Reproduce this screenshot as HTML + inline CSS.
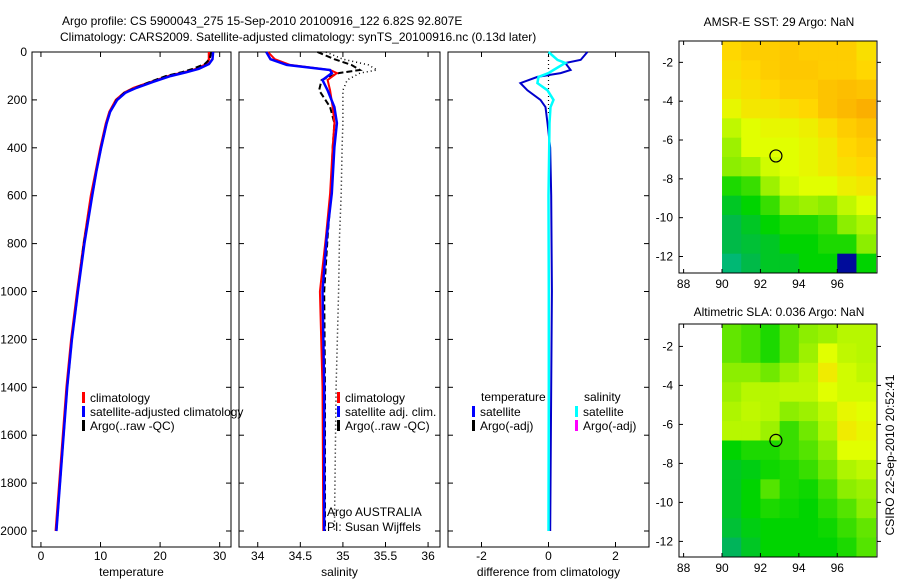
<!DOCTYPE html>
<html><head><meta charset="utf-8"><style>
html,body{margin:0;padding:0;background:#fff;}
svg{display:block;font-family:"Liberation Sans",sans-serif;}
text{font-size:12px;fill:#000;}
</style></head><body>
<svg id="fig" width="900" height="580" viewBox="0 0 900 580">
<text x="62" y="25" font-size="13">Argo profile: CS 5900043_275 15-Sep-2010 20100916_122 6.82S 92.807E</text>
<text x="60" y="41" font-size="13">Climatology: CARS2009. Satellite-adjusted climatology: synTS_20100916.nc (0.13d later)</text>
<text x="779" y="26" text-anchor="middle">AMSR-E SST: 29 Argo: NaN</text>
<text x="779" y="316" text-anchor="middle">Altimetric SLA: 0.036 Argo: NaN</text>
<text transform="translate(894,455) rotate(-90)" text-anchor="middle">CSIRO 22-Sep-2010 20:52:41</text>
<g id="layer"></g>
</svg>
<script>
// ---- data ----
const tDepth=[0,30,50,70,85,100,125,150,170,200,250,300,400,500,600,800,1000,1200,1400,1600,1800,2000];
const tSat=[28.9,28.8,28.2,26.5,24.3,21.8,18.8,16,14.2,12.8,11.6,11,10.1,9.3,8.6,7.3,6.2,5.2,4.4,3.8,3.2,2.6];
const tClim=[28.2,28.2,27.8,26.2,24,21.5,18.5,15.6,14,12.6,11.5,10.9,10,9.2,8.4,7.2,6.1,5.1,4.3,3.7,3.1,2.5];
const tArgo=[28.6,28.3,27.5,25.5,23.5,21,18.3,15.8,14,12.7,11.6,11,10.1,9.3,8.6,7.2,6.2,5.2,4.4,3.8,3.2,2.6];
const sDepth=[0,30,54,75,88,117,160,230,297,397,590,773,1000,1400,2000];
const sSat=[34.1,34.15,34.34,34.85,34.87,34.76,34.82,34.9,34.93,34.9,34.87,34.81,34.76,34.78,34.78];
const sClim=[34.12,34.2,34.38,34.85,34.93,34.82,34.85,34.88,34.9,34.88,34.85,34.8,34.73,34.76,34.77];
const sArgo=[34.7,34.9,35.1,35.2,34.95,34.75,34.72,34.85,34.9,34.88,34.86,34.82,34.78,34.79,34.79];
const sArgoQC=[34.8,35.0,35.3,35.4,35.2,35.05,35.0,35.0,35.0,34.99,34.98,34.96,34.95,34.92,34.9];
const dDepth=[0,33,46,75,88,104,130,160,200,230,297,400,600,1000,1400,2000];
const dTemp=[1.16,0.96,0.5,0.66,0.36,-0.33,-0.84,-0.63,-0.24,-0.09,-0.03,0.05,0.08,0.1,0.08,0.05];
const dSal=[0,0.27,0.5,0.15,0,-0.3,-0.33,-0.03,0.15,0.06,0.03,0.02,0,0.01,0.01,0];
const depthTicks=[0,200,400,600,800,1000,1200,1400,1600,1800,2000];
const tTicks=[0,10,20,30], sTicks=[34,34.5,35,35.5,36], dTicks=[-2,0,2];
const lonTicks=[88,90,92,94,96], latTicks=[-2,-4,-6,-8,-10,-12];
const sstGrid=[
[0.7,0.72,0.72,0.73,0.72,0.72,0.72,0.68],
[0.68,0.7,0.72,0.73,0.73,0.72,0.72,0.7],
[0.66,0.68,0.7,0.72,0.72,0.74,0.75,0.74],
[0.62,0.66,0.66,0.68,0.7,0.74,0.76,0.78],
[0.56,0.6,0.62,0.62,0.64,0.68,0.72,0.74],
[0.52,0.6,0.6,0.6,0.62,0.65,0.7,0.72],
[0.5,0.52,0.58,0.6,0.62,0.65,0.68,0.7],
[0.42,0.44,0.52,0.58,0.6,0.6,0.64,0.66],
[0.38,0.4,0.44,0.5,0.52,0.5,0.56,0.6],
[0.36,0.38,0.4,0.42,0.42,0.44,0.5,0.54],
[0.36,0.37,0.38,0.4,0.4,0.42,0.42,0.5],
[0.34,0.36,0.38,0.38,0.4,0.4,0.12,0.4]];
const slaGrid=[
[0.47,0.45,0.42,0.47,0.5,0.52,0.55,0.55],
[0.47,0.45,0.42,0.47,0.52,0.6,0.56,0.55],
[0.5,0.5,0.48,0.52,0.55,0.65,0.58,0.56],
[0.52,0.55,0.55,0.56,0.56,0.6,0.58,0.58],
[0.54,0.56,0.55,0.5,0.52,0.56,0.62,0.6],
[0.55,0.55,0.52,0.44,0.48,0.54,0.65,0.62],
[0.4,0.42,0.42,0.44,0.46,0.5,0.6,0.6],
[0.38,0.39,0.41,0.42,0.44,0.48,0.54,0.56],
[0.38,0.4,0.46,0.42,0.41,0.45,0.5,0.52],
[0.38,0.4,0.42,0.41,0.4,0.43,0.46,0.5],
[0.37,0.39,0.4,0.4,0.4,0.41,0.44,0.47],
[0.35,0.38,0.4,0.4,0.4,0.4,0.42,0.46]];
const argoLon=92.807, argoLat=-6.82;

// ---- drawing ----
const NS='http://www.w3.org/2000/svg';
const layer=document.getElementById('layer');
function mk(tag,attrs,parent){const e=document.createElementNS(NS,tag);for(const k in attrs)e.setAttribute(k,attrs[k]);(parent||layer).appendChild(e);return e;}
const top0=52,bot0=547,dMax=(bot0-top0)/0.2395;
const yD=d=>top0+d*0.2395;
const panels=[
 {x0:32,x1:231,min:-1.5,max:31.9,ticks:tTicks,label:'temperature',name:'temperature-panel'},
 {x0:239,x1:440,min:33.78,max:36.14,ticks:sTicks,label:'salinity',name:'salinity-panel'},
 {x0:448,x1:649,min:-3,max:3,ticks:dTicks,label:'difference from climatology',name:'difference-panel'}];
panels.forEach((p,pi)=>{
 p.sx=v=>p.x0+(v-p.min)/(p.max-p.min)*(p.x1-p.x0);
 const g=mk('g',{});
 
 
 p.g=g;
 const fr=mk('rect',{x:p.x0,y:top0,width:p.x1-p.x0,height:bot0-top0,fill:'none',stroke:'#000','stroke-width':1},g);
 
 
 depthTicks.forEach(d=>{
  const y=yD(d);
  mk('line',{x1:p.x0,x2:p.x0+5,y1:y,y2:y,stroke:'#000'},g);
  mk('line',{x1:p.x1-5,x2:p.x1,y1:y,y2:y,stroke:'#000'},g);
  if(pi===0){const t=mk('text',{x:27,y:y+4,'text-anchor':'end'},g);t.textContent=d;
   
   }
 });
 p.ticks.forEach(v=>{
  const x=p.sx(v);
  mk('line',{x1:x,x2:x,y1:top0,y2:top0+5,stroke:'#000'},g);
  mk('line',{x1:x,x2:x,y1:bot0-5,y2:bot0,stroke:'#000'},g);
  const t=mk('text',{x:x,y:560,'text-anchor':'middle'},g);t.textContent=v;
  
  
 });
 const xl=mk('text',{x:(p.x0+p.x1)/2,y:576,'text-anchor':'middle'},g);xl.textContent=p.label;
 
 
});
function line(p,depths,vals,color,w,dash,name){
 const pts=depths.map((d,i)=>p.sx(vals[i]).toFixed(1)+','+yD(d).toFixed(1)).join(' ');
 const e=mk('polyline',{points:pts,fill:'none',stroke:color,'stroke-width':w,'stroke-dasharray':dash||'none'},p.g);
 
 
}
const P=panels;
line(P[0],tDepth,tClim,'#f00',2.5,null,'temperature-climatology-line');
line(P[0],tDepth,tArgo,'#000',2,'6,3','temperature-argo-line');
line(P[0],tDepth,tSat,'#00f',2.5,null,'temperature-satellite-line');
line(P[1],sDepth,sArgoQC,'#000',1.5,'1,3','salinity-argo-qc-line');
line(P[1],sDepth,sArgo,'#000',2,'6,3','salinity-argo-line');
line(P[1],sDepth,sClim,'#f00',2,null,'salinity-climatology-line');
line(P[1],sDepth,sSat,'#00f',2.5,null,'salinity-satellite-line');
line(P[2],[0,260],[0,0],'#000',1.2,'1,3','zero-reference-line');
line(P[2],dDepth,dTemp,'#00c',2,null,'temperature-difference-line');
line(P[2],dDepth,dSal,'#0ff',2.5,null,'salinity-difference-line');
function legend(x,y,color,label,name){
 const g=mk('g',{});
 
 
 mk('rect',{x:x,y:y-10,width:3,height:11,fill:color},g);
 const t=mk('text',{x:x+8,y:y},g);t.textContent=label;
}
legend(82,402,'#f00','climatology','legend-entry-climatology');
legend(82,416,'#00f','satellite-adjusted climatology','legend-entry-satellite');
legend(82,430,'#000','Argo(..raw -QC)','legend-entry-argo');
legend(337,402,'#f00','climatology','legend-entry-climatology-2');
legend(337,416,'#00f','satellite adj. clim.','legend-entry-satellite-2');
legend(337,430,'#000','Argo(..raw -QC)','legend-entry-argo-2');
[['temperature',481,401],['salinity',584,401]].forEach(a=>{const t=mk('text',{x:a[1],y:a[2]});t.textContent=a[0];
 
 });
legend(472,416,'#00f','satellite','legend-entry-temp-satellite');
legend(472,430,'#000','Argo(-adj)','legend-entry-temp-argo');
legend(575,416,'#0ff','satellite','legend-entry-sal-satellite');
legend(575,430,'#f0f','Argo(-adj)','legend-entry-sal-argo');
[['Argo AUSTRALIA',516],['PI: Susan Wijffels',531]].forEach(a=>{const t=mk('text',{x:327,y:a[1]});t.textContent=a[0];
 
 });
// colormap
const stops=[[0.1,[0,0,130]],[0.2,[0,60,255]],[0.3,[0,200,220]],[0.35,[0,180,90]],[0.4,[0,212,0]],[0.5,[140,238,0]],[0.6,[225,255,0]],[0.7,[255,215,0]],[0.8,[250,165,0]]];
function cmap(v){
 if(v<=stops[0][0])return 'rgb('+stops[0][1]+')';
 for(let i=1;i<stops.length;i++){if(v<=stops[i][0]){const a=stops[i-1],b=stops[i],f=(v-a[0])/(b[0]-a[0]);
  return 'rgb('+a[1].map((c,k)=>Math.round(c+(b[1][k]-c)*f)).join(',')+')';}}
 return 'rgb('+stops[stops.length-1][1]+')';
}
function map(grid,top,bot,latTop,latBot,name){
 const x0=679,x1=877,lonMin=87.76,lonMax=98.07;
 const sx=l=>x0+(l-lonMin)/(lonMax-lonMin)*(x1-x0);
 const sy=l=>top+(latTop-l)/(latTop-latBot)*(bot-top);
 const g=mk('g',{});
 
 
 const cid='clip'+name;
 const cp=mk('clipPath',{id:cid},g);mk('rect',{x:x0,y:top,width:x1-x0,height:bot-top},cp);
 const cg=mk('g',{'clip-path':'url(#'+cid+')'},g);
 const rowH=(latTop-latBot)/grid.length;
 grid.forEach((row,r)=>row.forEach((v,c)=>{
  const la=latTop-r*rowH, lo=90+c;
  const cell=mk('rect',{x:sx(lo),y:sy(la),width:sx(lo+1)-sx(lo)+0.5,height:sy(la-rowH)-sy(la)+0.5,fill:cmap(v)},cg);
  
  
 }));
 const m=mk('circle',{cx:sx(argoLon),cy:sy(argoLat),r:6,fill:'none',stroke:'#000','stroke-width':1.2},g);
 
 
 mk('rect',{x:x0,y:top,width:x1-x0,height:bot-top,fill:'none',stroke:'#000'},g);
 lonTicks.forEach(l=>{const x=sx(l);mk('line',{x1:x,x2:x,y1:bot,y2:bot-4,stroke:'#000'},g);mk('line',{x1:x,x2:x,y1:top,y2:top+4,stroke:'#000'},g);
  const t=mk('text',{x:x,y:bot+15,'text-anchor':'middle'},g);t.textContent=l;
  
  });
 latTicks.forEach(l=>{const y=sy(l);mk('line',{x1:x0,x2:x0+4,y1:y,y2:y,stroke:'#000'},g);mk('line',{x1:x1,x2:x1+4,y1:y,y2:y,stroke:'#000'},g);
  const t=mk('text',{x:x0-6,y:y+4,'text-anchor':'end'},g);t.textContent=l;
  
  });
}
map(sstGrid,41,273,-0.9,-12.85,'sst-map');
map(slaGrid,324,557,-0.85,-12.8,'sla-map');
</script>
</body></html>
